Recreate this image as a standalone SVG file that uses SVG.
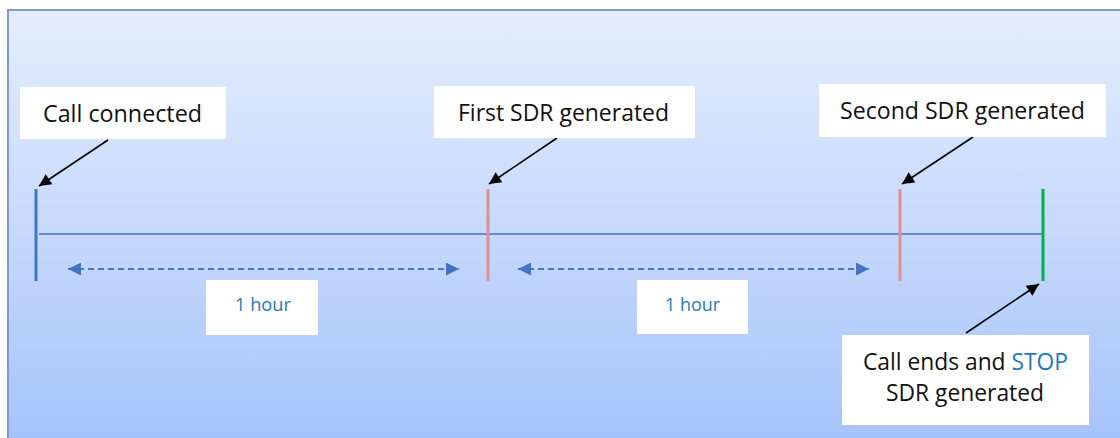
<svg xmlns="http://www.w3.org/2000/svg" width="1120" height="438" viewBox="0 0 1120 438">
<defs>
<linearGradient id="bg" x1="0" y1="0" x2="0" y2="1">
<stop offset="0" stop-color="#e4edfd"/>
<stop offset="0.5" stop-color="#c7d9fc"/>
<stop offset="1" stop-color="#a5c3fb"/>
</linearGradient>
<marker id="ah" viewBox="0 0 10 10" refX="10" refY="5" markerWidth="17" markerHeight="12" markerUnits="userSpaceOnUse" orient="auto"><path d="M0,0 L10,5 L0,10 z" fill="#000"/></marker>
<marker id="ahb" viewBox="0 0 10 10" refX="10" refY="5" markerWidth="15" markerHeight="13" markerUnits="userSpaceOnUse" orient="auto-start-reverse"><path d="M0,0 L10,5 L0,10 z" fill="#4472c4"/></marker>
<style>
.box{fill:#fff}
.lbl{font-family:"Open Sans","Liberation Sans",sans-serif;font-size:23px;fill:#111}
.hr{font-family:"Open Sans","Liberation Sans",sans-serif;font-size:19px;fill:#1f78c1}
.blk{stroke:#000;stroke-width:1.6;fill:none}
.dash{stroke:#4a78c2;stroke-width:1.8;stroke-dasharray:6 4;fill:none}
</style>
</defs>
<rect x="0" y="0" width="1120" height="438" fill="#fff"/>
<rect x="8" y="10" width="1116" height="434" fill="url(#bg)" stroke="#7d9cc8" stroke-width="2"/>
<g id="connectors">
<line x1="39" y1="234" x2="1042" y2="234" stroke="#4472c4" stroke-width="1.5"/>
<line x1="68" y1="269" x2="459" y2="269" class="dash" marker-start="url(#ahb)" marker-end="url(#ahb)"/>
<line x1="518" y1="269" x2="869" y2="269" class="dash" marker-start="url(#ahb)" marker-end="url(#ahb)"/>
<line x1="108" y1="140" x2="39" y2="186" class="blk" marker-end="url(#ah)"/>
<line x1="557" y1="138" x2="489" y2="184" class="blk" marker-end="url(#ah)"/>
<line x1="973" y1="137" x2="902" y2="184" class="blk" marker-end="url(#ah)"/>
<line x1="966" y1="333" x2="1039" y2="284" class="blk" marker-end="url(#ah)"/>
</g>
<g id="tick-start"><line x1="36" y1="189" x2="36" y2="281" stroke="#4472c4" stroke-width="3"/></g>
<g id="tick-sdr1"><line x1="488" y1="189" x2="488" y2="281" stroke="#e0908e" stroke-width="3"/></g>
<g id="tick-sdr2"><line x1="900" y1="189" x2="900" y2="281" stroke="#e0908e" stroke-width="3"/></g>
<g id="tick-end"><line x1="1043" y1="189" x2="1043" y2="281" stroke="#00b050" stroke-width="3"/></g>
<g id="call-connected">
<rect class="box" x="20" y="87" width="206" height="52"/>
<text class="lbl" x="43" y="122" textLength="159" lengthAdjust="spacingAndGlyphs">Call connected</text>
</g>
<g id="first-sdr">
<rect class="box" x="434" y="86" width="261" height="52"/>
<text class="lbl" x="458" y="121" textLength="211" lengthAdjust="spacingAndGlyphs">First SDR generated</text>
</g>
<g id="second-sdr">
<rect class="box" x="819" y="84" width="287" height="53"/>
<text class="lbl" x="840" y="119" textLength="245" lengthAdjust="spacingAndGlyphs">Second SDR generated</text>
</g>
<g id="hour-1">
<rect class="box" x="206" y="280" width="112" height="55"/>
<text class="hr" x="235" y="311" textLength="56" lengthAdjust="spacingAndGlyphs">1 hour</text>
</g>
<g id="hour-2">
<rect class="box" x="637" y="280" width="111" height="54"/>
<text class="hr" x="665" y="311" textLength="55" lengthAdjust="spacingAndGlyphs">1 hour</text>
</g>
<g id="call-ends">
<rect class="box" x="842" y="335" width="247" height="90"/>
<text class="lbl" x="863" y="370" textLength="205" lengthAdjust="spacingAndGlyphs">Call ends and <tspan fill="#1f78c1">STOP</tspan></text>
<text class="lbl" x="886" y="401" textLength="158" lengthAdjust="spacingAndGlyphs">SDR generated</text>
</g>
</svg>
